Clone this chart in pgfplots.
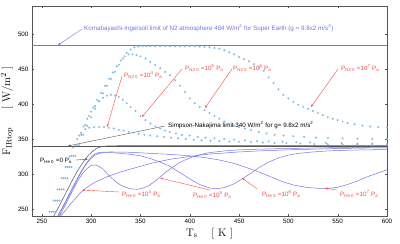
\documentclass[border=0pt]{standalone}
\usepackage{fontspec}
\setsansfont{Liberation Sans}
\usepackage{pgfplots}
\pgfplotsset{compat=1.18}
\usetikzlibrary{arrows.meta}
\definecolor{nblue}{RGB}{120,180,222}
\definecolor{hblue}{RGB}{115,115,240}
\definecolor{ared}{RGB}{250,70,70}
\definecolor{dgray}{RGB}{85,85,85}
\newcommand{\sm}{\sffamily\fontsize{6.3}{7}\selectfont}
\begin{document}
\begin{tikzpicture}
\begin{axis}[
  scale only axis, width=355bp, height=210bp,
  xmin=240, xmax=600, ymin=240, ymax=540,
  xtick={250,300,...,600}, ytick={250,300,...,500},
  tick align=inside, major tick length=2.5pt,
  tick style={dgray},
  tick label style={font=\sm, /pgf/number format/assume math mode=true},
  axis line style={dgray},
  xlabel={T$_{\mathrm{s}}$\hspace{14pt}[ K ]},
  ylabel={F$_{\mathrm{IRtop}}$\hspace{18pt}[ W/m$^2$ ]},
  label style={font=\fontsize{11}{12}\selectfont},
  xlabel style={yshift=3pt},
  ylabel style={yshift=-2pt},
]
% reference lines
\addplot[hblue, line width=0.5pt] coordinates {(240,484) (600,484)};
\addplot[dgray, line width=0.6pt] coordinates {(240,340) (600,340)};

% N2 curves
\pgfplotsset{nstyle/.style={only marks, mark=o, mark size=0.8pt, nblue, mark options={line width=0.45pt}}}
\addplot[nstyle] table {
x y
258 246
262 262
266 278
270 294
274 310
278 325
282 338
286 350
290 359
294 364
298 366
303 367
308 367
313 367
318 366
323 365
328 363
333 362
338 360
343 359
348 357
354 356
360 355
367 354
374 353
381 352
388 351
396 350
404 349
412 348
421 347.5
430 347
440 346.5
450 346
462 345.5
474 345
486 344.5
498 344
512 343.5
526 343
540 342.5
555 342
570 342
585 341.5
600 341.5
};
\addplot[nstyle] table {
x y
260 246
264 262
268 278
272 294
276 310
280 326
284 341
288 355
292 368
296 379
300 389
304 397
308 404
312 409
316 412
320 413
324 412
328 410
332 406
336 401
340 396
345 390
350 383
355 377
360 372
365 368
370 365
375 362
380 360
386 358
392 356
400 355
408 353
416 352
425 351
435 350
445 349
456 348
468 347
480 346.5
494 346
508 345.5
522 345
538 344.5
554 344
570 343.5
585 343.5
600 343
};
\addplot[nstyle] table {
x y
262 246
266 262
270 278
274 294
278 310
282 326
286 342
290 356
294 370
298 383
302 395
306 406
310 416
314 426
318 436
322 445
326 454
330 462
334 468
338 471
342 471
346 470
350 468
355 465
360 460
365 456
370 451
375 446
380 441
385 434
390 426
395 417
400 408
405 401
410 396
415 391
420 387
425 383
430 379
435 375
440 372
445 369
450 367
456 365
462 363
470 360
478 358
486 356
495 355
505 354
516 353
528 352
540 351.5
555 351
570 350.5
585 350
600 350
};
\addplot[nstyle] table {
x y
264 246
268 262
272 278
276 294
280 310
284 326
288 341
292 356
296 369
300 381
304 393
308 404
312 415
316 426
320 436
324 446
328 456
332 465
336 473
340 478
344 481
348 482
352 482.5
356 482.5
360 482.5
365 482.5
370 482.5
375 482.5
380 482.5
385 482.5
390 482.5
395 482.5
400 482.5
405 482.5
410 482
415 481.5
420 481
425 480
430 479
435 477
440 474
445 471
450 467
455 464
460 461
465 457
470 452
475 447
480 438
485 430
490 421
495 413
500 408
505 403
510 399
515 396
520 393
525 390
530 387
535 384
540 381
545 379
550 377
555 375
560 373
567 371
575 369
583 368
591 367
600 366
};

% He curves
\addplot[dgray, line width=0.5pt] table {
x y
262 240
266 250
270 261
274 272
278 283
282 294
286 304
290 313
294 321
298 328
302 333
306 337
310 339
316 340
330 340.5
360 340.5
600 340.5
};
\addplot[hblue, line width=0.5pt] table {
x y
269 240
274 248
279 257
284 265
289 273
294 279
300 285
305 289
310 292
316 296
322 299
330 303
340 307
350 311
360 315
370 318
380 321
390 323
400 325
410 327
420 328.5
435 330
450 331.5
470 333
490 334
510 335
540 336
570 337
600 337.5
};
\addplot[hblue, line width=0.5pt] table {
x y
268 240
272 251
276 262
280 273
284 284
288 294
292 302
296 308
300 312
304 313
308 311
312 307
316 301
320 295
325 289
330 284
335 281
340 279
346 278
352 279.5
358 283
364 289
370 296
376 303
382 309
388 315
395 320
402 324
410 327.5
420 330.5
435 333
450 334.5
470 335.5
500 336.5
540 337.5
600 338.5
};
\addplot[hblue, line width=0.5pt] table {
x y
267 240
271 251
275 262
279 273
283 284
287 295
291 305
295 314
299 321
303 326
307 329
312 330.5
320 330.5
330 329.5
340 328
350 326
360 322
370 317
380 311
390 302
400 293
410 285
420 280
428 279
436 281
445 286
453 293
462 301
470 309
480 317
490 323
500 327
510 329.5
525 331.5
540 333
560 334
580 334.5
600 335
};
\addplot[hblue, line width=0.5pt] table {
x y
266 240
270 250
274 261
278 272
282 283
286 294
290 304
294 313
298 321
302 327
306 330
310 331
320 331.5
340 331
360 329.5
380 328
400 326
415 323.5
430 320
445 315
458 309
470 303
482 296
494 289
506 284
518 281
530 279.5
540 279.5
550 281
560 285
570 290
580 296
590 301
600 306
};

% annotations
\draw[hblue, line width=0.4pt, -{Stealth[length=3pt,width=2pt]}] (axis cs:290.7,507) -- (axis cs:266.4,484.3);
\node[anchor=west, inner sep=0pt, text=hblue, font=\sm] at (axis cs:292.7,508.6) {Komabayashi-Ingersoll limit of N2 atmosphere 484 W/m\textsuperscript{2} for Super Earth (g = 9.8x2 m/s\textsuperscript{2})};

\draw[dgray, line width=0.4pt, -{Stealth[length=3pt,width=2pt]}] (axis cs:374.9,368.6) -- (axis cs:276.5,340);
\node[anchor=west, inner sep=0pt, text=black, font=\sm] at (axis cs:377.9,370) {Simpson-Nakajima limit 340 W/m\textsuperscript{2} for g= 9.8x2 m/s\textsuperscript{2}};

\tikzset{rarr/.style={ared, line width=0.4pt, -{Stealth[length=3pt,width=2pt]}}}
\tikzset{rlab/.style={anchor=west, inner sep=0pt, text=ared, font=\sm}}
\draw[rarr] (axis cs:331.3,440) -- (axis cs:316.1,367.1);
\node[rlab] at (axis cs:333.3,441.4) {P\textsubscript{N2 0} =10\textsuperscript{4} P\textsubscript{a}};
\draw[rarr] (axis cs:392.1,450) -- (axis cs:351.5,381.4);
\node[rlab] at (axis cs:395.2,451.4) {P\textsubscript{N2 0} =10\textsuperscript{5} P\textsubscript{a}};
\draw[rarr] (axis cs:442.8,450) -- (axis cs:415.4,394.3);
\node[rlab] at (axis cs:443.8,451.4) {P\textsubscript{N2 0} =10\textsuperscript{6} P\textsubscript{a}};
\draw[rarr] (axis cs:550.3,450) -- (axis cs:522.9,395.7);
\node[rlab] at (axis cs:553.3,451.4) {P\textsubscript{N2 0} =10\textsuperscript{7} P\textsubscript{a}};

\draw[dgray, line width=0.4pt, -{Stealth[length=3pt,width=2pt]}] (axis cs:284.6,320) -- (axis cs:296.8,321.4);
\node[anchor=west, inner sep=0pt, text=black, font=\sm] at (axis cs:248.1,318.6) {P\textsubscript{He 0} =0 P\textsubscript{a}};

\draw[rarr] (axis cs:328.2,274.3) -- (axis cs:290.7,277.1);
\node[rlab] at (axis cs:331.3,271.4) {P\textsubscript{He 0} =10\textsuperscript{4} P\textsubscript{a}};
\draw[rarr] (axis cs:420.5,277) -- (axis cs:369.8,294.3);
\node[rlab] at (axis cs:403.3,270) {P\textsubscript{He 0} =10\textsuperscript{5} P\textsubscript{a}};
\draw[rarr] (axis cs:468.2,278.6) -- (axis cs:453,294.3);
\node[rlab] at (axis cs:473.2,271.4) {P\textsubscript{He 0} =10\textsuperscript{6} P\textsubscript{a}};
\draw[rarr] (axis cs:549.3,277) -- (axis cs:537.1,280);
\node[rlab] at (axis cs:552.3,271.4) {P\textsubscript{He 0} =10\textsuperscript{7} P\textsubscript{a}};
\end{axis}
\pgfresetboundingbox
\path ([shift={(-32bp,-28bp)}]current axis.south west) rectangle ([shift={(13bp,6bp)}]current axis.north east);
\end{tikzpicture}
\end{document}
